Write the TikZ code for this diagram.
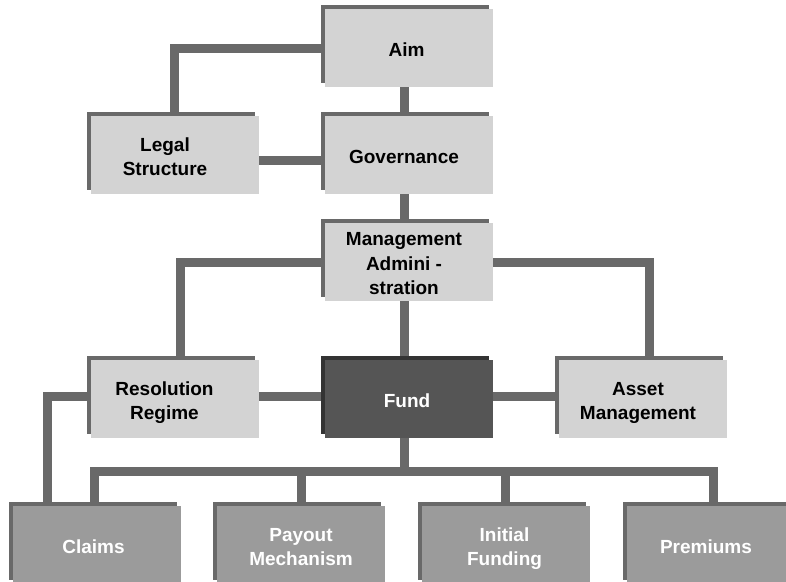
\documentclass[tikz,border=0pt]{standalone}
\usepackage{fontspec}
\setmainfont{Liberation Sans}
\usetikzlibrary{shadows, backgrounds}
\definecolor{boxlight}{RGB}{211,211,211}
\definecolor{boxmid}{RGB}{155,155,155}
\definecolor{boxdark}{RGB}{85,85,85}
\definecolor{linegray}{RGB}{105,105,105}
\definecolor{shadedark}{RGB}{51,51,51}
\newcommand{\boxtext}[2][-10pt]{\hspace*{#1}\raisebox{-3.5pt}[\height][\depth]{\begin{tabular}{@{}c@{}}#2\end{tabular}}}

\begin{document}
\begin{tikzpicture}[x=1pt, y=-1pt,
  box/.style = {rectangle, inner sep=0pt, minimum width=168pt, minimum height=78pt,
    font=\fontsize{19}{24.5}\selectfont\bfseries,
    general shadow={fill=linegray, shadow xshift=-4pt, shadow yshift=4pt}},
  lightbox/.style = {box, fill=boxlight, text=black},
  midbox/.style = {box, fill=boxmid, text=white},
  darkbox/.style = {box, fill=boxdark, text=white,
    general shadow={fill=shadedark, shadow xshift=-4pt, shadow yshift=4pt}},
  link/.style = {draw=linegray, line width=9pt}]
\useasboundingbox (0,0) rectangle (786,581);
\clip (0,0) rectangle (786,581);

\node[lightbox] (aim) at (409,48) {\boxtext[-5pt]{Aim}};
\node[lightbox] (legal) at (175,155) {\boxtext[-20pt]{Legal\\Structure}};
\node[lightbox] (gov) at (409,155) {\boxtext{Governance}};
\node[lightbox] (mgmt) at (409,262) {\boxtext{Management\\Admini -\\stration}};
\node[lightbox] (resol) at (175,399) {\boxtext[-21pt]{Resolution\\Regime}};
\node[darkbox] (fund) at (409,399) {\boxtext[-4pt]{Fund}};
\node[lightbox] (asset) at (643,399) {\boxtext{Asset\\Management}};
\node[midbox] (claims) at (97,545) {\boxtext[-7pt]{Claims}};
\node[midbox] (payout) at (301,545) {\boxtext[0pt]{Payout\\Mechanism}};
\node[midbox] (initial) at (506,545) {\boxtext[-3pt]{Initial\\Funding}};
\node[midbox] (premiums) at (711,545) {\boxtext{Premiums}};
\coordinate (split) at ([xshift=-5pt, yshift=-33pt]fund.south);

\begin{scope}[on background layer]
\draw[link] (aim.west) -| ([xshift=-1pt]legal.north);
\draw[link] ([xshift=-5pt]aim.south) -- ([xshift=-5pt]gov.north);
\draw[link] ([yshift=-5pt]legal.east) -- ([yshift=-5pt]gov.west);
\draw[link] ([xshift=-5pt]gov.south) -- ([xshift=-5pt]mgmt.north);
\draw[link] (mgmt.west) -| ([xshift=5pt]resol.north);
\draw[link] (mgmt.east) -| ([xshift=6pt]asset.north);
\draw[link] ([xshift=-5pt]mgmt.south) -- ([xshift=-5pt]fund.north);
\draw[link] ([yshift=3pt]resol.east) -- ([yshift=3pt]fund.west);
\draw[link] ([yshift=3pt]fund.east) -- ([yshift=3pt]asset.west);
\draw[link] ([yshift=3pt]resol.west) -| ([xshift=-50pt]claims.north);
\draw[link] ([xshift=-5pt]fund.south) -- (split);
\foreach \b/\s in {claims/-3, payout/0, initial/-1, premiums/2}
  \draw[link] (split) -| ([xshift=\s pt]\b.north);
\end{scope}
\end{tikzpicture}
\end{document}
